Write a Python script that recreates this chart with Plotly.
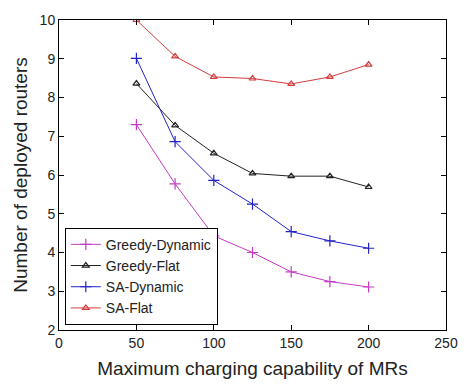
import plotly.graph_objects as go

x_vals = [50, 75, 100, 125, 150, 175, 200]
greedy_dynamic = [7.30, 5.77, 4.43, 4.00, 3.50, 3.25, 3.11]
greedy_flat = [8.36, 7.28, 6.56, 6.04, 5.97, 5.97, 5.69]
sa_dynamic = [9.01, 6.86, 5.86, 5.25, 4.54, 4.30, 4.11]
sa_flat = [10.0, 9.06, 8.53, 8.49, 8.35, 8.53, 8.85]

series = [
    ("Greedy-Dynamic", greedy_dynamic, "#c43cc4", "cross-thin-open", 8),
    ("Greedy-Flat", greedy_flat, "#222222", "triangle-up-open", 6),
    ("SA-Dynamic", sa_dynamic, "#2323c8", "cross-thin-open", 8),
    ("SA-Flat", sa_flat, "#d23c3c", "triangle-up-open", 6),
]

FONT = "Liberation Sans, Arial, sans-serif"

fig = go.Figure()
for name, ys, color, sym, size in series:
    fig.add_trace(go.Scatter(
        x=x_vals, y=ys, name=name, mode="lines+markers",
        line=dict(color=color, width=1),
        marker=dict(symbol=sym, size=size, color=color, line=dict(color=color, width=1.2)),
    ))

axis_common = dict(
    showgrid=False, zeroline=False, showline=True, linecolor="black", linewidth=1,
    mirror="ticks", ticks="inside", ticklen=5, tickcolor="black",
    tickfont=dict(family=FONT, size=14, color="#222"),
)

fig.update_layout(
    width=470, height=387,
    margin=dict(l=59, r=13, t=17, b=55),
    paper_bgcolor="white", plot_bgcolor="white",
    xaxis=dict(range=[0, 250], tickvals=[0, 50, 100, 150, 200, 250],
               title=dict(text="Maximum charging capability of MRs", standoff=11,
                          font=dict(family=FONT, size=19, color="#222")),
               **axis_common),
    yaxis=dict(range=[2, 10], tickvals=list(range(2, 11)),
               title=dict(text="Number of deployed routers", standoff=6,
                          font=dict(family=FONT, size=19, color="#222")),
               **axis_common),
    legend=dict(x=0.015, y=0.017, xanchor="left", yanchor="bottom",
                bordercolor="black", borderwidth=1, bgcolor="white",
                font=dict(family=FONT, size=14, color="#222"),
                tracegroupgap=0, itemwidth=30),
    showlegend=True,
)

fig.write_html("out.html")
